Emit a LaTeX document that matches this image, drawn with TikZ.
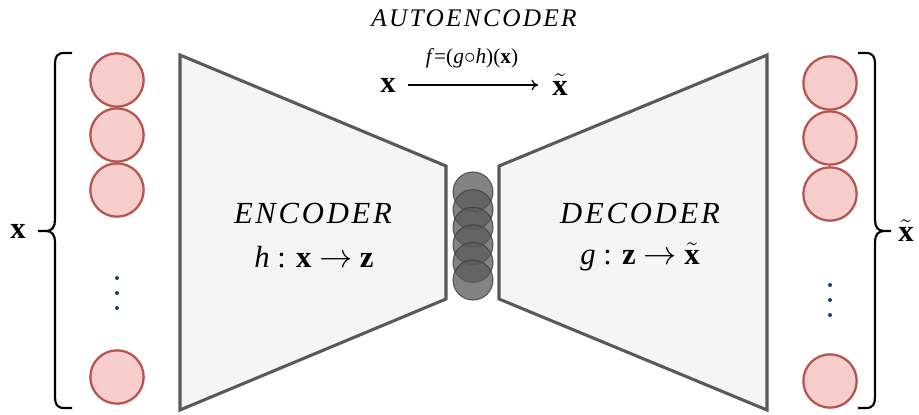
\documentclass[tikz,border=0pt]{standalone}
\usepackage{fontspec}
\setmainfont{Liberation Serif}
\newfontfamily\titlefont[LetterSpace=9]{Liberation Serif}
\newfontfamily\partfont[LetterSpace=9]{Liberation Serif}
\usetikzlibrary{arrows.meta,calc}
\definecolor{unitfill}{HTML}{F8CECC}
\definecolor{unitline}{HTML}{B85450}
\definecolor{blockfill}{HTML}{F5F5F5}
\definecolor{blockline}{HTML}{595959}
\definecolor{codefill}{HTML}{5A5A5A}
\definecolor{dotcol}{HTML}{1F3A6B}
\tikzset{
  unit/.style={circle, draw=unitline, fill=unitfill, line width=1.7pt, minimum size=40pt, inner sep=0pt},
  code/.style={circle, draw=codefill!70!black, fill=codefill, fill opacity=0.75, draw opacity=0.8, line width=0.8pt, minimum size=30pt, inner sep=0pt},
  block/.style={draw=blockline, fill=blockfill, line width=2.3pt, line join=miter},
  setbrace/.style={line width=1.6pt, draw=black},
  label/.style={inner sep=0pt, font=\fontsize{23}{27}\selectfont},
}
\begin{document}
\begin{tikzpicture}[x=0.75pt, y=-0.75pt]
\useasboundingbox (0,0) rectangle (919,414);

% encoder and decoder blocks
\draw[block] (180,55) -- (446,166) -- (446,299) -- (180,410) -- cycle;
\draw[block] (499,166) -- (767,55) -- (767,410) -- (499,299) -- cycle;

% latent code z
\foreach \i in {0,...,5}
  \node[code] (z\i) at (473,{192+\i*17.6}) {};

% input units
\node[unit] (in1) at (117,80) {};
\node[unit] (in2) at (117,135) {};
\node[unit] (in3) at (117,190) {};
\node[unit] (in4) at (117,377) {};
\foreach \y in {278,293,308}
  \fill[dotcol] (117,\y) circle (1.5pt);

% output units
\node[unit] (out1) at (830,83) {};
\node[unit] (out2) at (830,138) {};
\node[unit] (out3) at (830,194) {};
\node[unit] (out4) at (830,381) {};
\foreach \y in {285,300,315}
  \fill[dotcol] (830,\y) circle (1.5pt);

% braces
\coordinate (lbTop) at (72,53);
\coordinate (lbBot) at (72,408);
\coordinate (lbTip) at (38,231);
\coordinate (rbTop) at (858,53);
\coordinate (rbBot) at (858,408);
\coordinate (rbTip) at (891,231);
\draw[setbrace] (lbTop) -- (64,53) .. controls (57,53) and (55,57) .. (55,64)
  -- (55,220) .. controls (55,227) and (52,231) .. (46,231) -- (lbTip)
  (46,231) .. controls (52,231) and (55,235) .. (55,242)
  -- (55,397) .. controls (55,404) and (57,408) .. (64,408) -- (lbBot);
\draw[setbrace] (rbTop) -- (866,53) .. controls (873,53) and (875,57) .. (875,64)
  -- (875,220) .. controls (875,227) and (878,231) .. (884,231) -- (rbTip)
  (884,231) .. controls (878,231) and (875,235) .. (875,242)
  -- (875,397) .. controls (875,404) and (873,408) .. (866,408) -- (rbBot);
\node[label] (xin) at (18,231) {\textbf{x}};
\node[label] (xout) at (906,231) {$\tilde{\textbf{x}}$};

% block captions
\node[label] (enc) at (313,213) {\partfont\itshape ENCODER};
\node[label] (encmap) at (314,257) {\textit{h} : \textbf{x} $\rightarrow$ \textbf{z}};
\node[label] (dec) at (640,213) {\partfont\itshape DECODER};
\node[label] (decmap) at (640,257) {\textit{g} : \textbf{z} $\rightarrow$ $\tilde{\textbf{x}}$};

% title and overall mapping
\node[inner sep=0pt, font=\fontsize{19}{22}\selectfont] (title) at (474,18) {\titlefont\itshape AUTOENCODER};
\node[label] (xa) at (388,85) {\textbf{x}};
\node[label] (xb) at (560,85) {$\tilde{\textbf{x}}$};
\draw[-{Computer Modern Rightarrow[length=5pt,width=8pt]}, line width=0.9pt]
  ($(xa.east)+(12,0)$) coordinate (fa) -- ($(xb.west)+(-14,0)$) coordinate (fb);
\node[inner sep=0pt, font=\fontsize{16}{18}\selectfont] (fmap) at (472,58)
  {\textit{f}=(\textit{g}$\circ$\textit{h})(\textbf{x})};
\end{tikzpicture}
\end{document}
